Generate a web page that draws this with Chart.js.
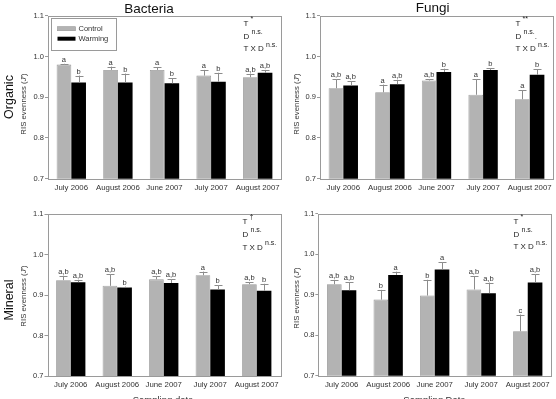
<!DOCTYPE html>
<html>
<head>
<meta charset="utf-8">
<script src="https://cdn.jsdelivr.net/npm/chart.js@4.4.1/dist/chart.umd.min.js"></script>
<style>
  html,body{margin:0;padding:0;background:#fff;}
  #wrap{position:relative;width:556px;height:399px;overflow:hidden;font-family:'Liberation Sans',Arial,sans-serif;}
  canvas{position:absolute;left:0;top:0;}
  .t{position:absolute;white-space:nowrap;color:#111;line-height:1;}
  .rot{transform:translate(-50%,-50%) rotate(-90deg);}
  .ctr{transform:translate(-50%,-50%);}
  .st{position:absolute;font-size:8px;color:#222;line-height:1;white-space:nowrap;}
  .st sup{font-size:7px;position:relative;top:-1px;vertical-align:super;line-height:0;}
</style>
</head>
<body>
<div id="wrap">
  <canvas id="c1" width="556" height="399"></canvas>
  <canvas id="c2" width="556" height="399"></canvas>
  <canvas id="c3" width="556" height="399"></canvas>
  <canvas id="c4" width="556" height="399"></canvas>
</div>
<script>
// ---------- data ----------
const categories = ['July 2006','August 2006','June 2007','July 2007','August 2007'];
const yTicks = [0.7, 0.8, 0.9, 1.0, 1.1];
const seriesNames = ['Control','Warming'];

// Organic - Bacteria
const orgBacCtrl = [0.980, 0.967, 0.967, 0.953, 0.949];
const orgBacCtrlErr = [0.002, 0.008, 0.007, 0.014, 0.009];
const orgBacWarm = [0.936, 0.936, 0.934, 0.938, 0.960];
const orgBacWarmErr = [0.017, 0.022, 0.013, 0.022, 0.007];
const orgBacCtrlLet = ['a','a','a','a','a,b'];
const orgBacWarmLet = ['b','b','b','b','a,b'];

// Organic - Fungi
const orgFunCtrl = [0.922, 0.912, 0.941, 0.906, 0.895];
const orgFunCtrlErr = [0.022, 0.019, 0.003, 0.038, 0.022];
const orgFunWarm = [0.929, 0.932, 0.962, 0.967, 0.955];
const orgFunWarmErr = [0.010, 0.011, 0.008, 0.004, 0.014];
const orgFunCtrlLet = ['a,b','a','a,b','a','a'];
const orgFunWarmLet = ['a,b','a,b','b','b','b'];

// Mineral - Bacteria
const minBacCtrl = [0.937, 0.923, 0.939, 0.949, 0.927];
const minBacCtrlErr = [0.011, 0.028, 0.007, 0.009, 0.005];
const minBacWarm = [0.932, 0.919, 0.930, 0.914, 0.911];
const minBacWarmErr = [0.006, 0.002, 0.009, 0.010, 0.017];
const minBacCtrlLet = ['a,b','a,b','a,b','a','a,b'];
const minBacWarmLet = ['a,b','b','a,b','b','b'];

// Mineral - Fungi
const minFunCtrl = [0.926, 0.888, 0.898, 0.913, 0.810];
const minFunCtrlErr = [0.011, 0.024, 0.039, 0.033, 0.041];
const minFunWarm = [0.911, 0.949, 0.962, 0.904, 0.930];
const minFunWarmErr = [0.020, 0.008, 0.018, 0.026, 0.020];
const minFunCtrlLet = ['a,b','b','b','a,b','c'];
const minFunWarmLet = ['a,b','a','a','a,b','a,b'];

// Stats annotations (T, D, T X D)
const statT = ['*', '**', '\u2020', '*'];
const statD = ['n.s.', 'n.s.', 'n.s.', 'n.s.'];
const statTD = ['n.s.', 'n.s.', 'n.s.', 'n.s.'];

// ---------- layout ----------
const FONT = "'Liberation Sans', Arial, sans-serif";
const panels = [
  {id:'c1', L:48,   R:281, T:15.7, B:178.7, ctrl:orgBacCtrl, ctrlErr:orgBacCtrlErr, warm:orgBacWarm, warmErr:orgBacWarmErr, cl:orgBacCtrlLet, wl:orgBacWarmLet, legend:true},
  {id:'c2', L:320,  R:553, T:15.7, B:178.7, ctrl:orgFunCtrl, ctrlErr:orgFunCtrlErr, warm:orgFunWarm, warmErr:orgFunWarmErr, cl:orgFunCtrlLet, wl:orgFunWarmLet},
  {id:'c3', L:47.5, R:280, T:214, B:376.3, ctrl:minBacCtrl, ctrlErr:minBacCtrlErr, warm:minBacWarm, warmErr:minBacWarmErr, cl:minBacCtrlLet, wl:minBacWarmLet},
  {id:'c4', L:318.4,R:551, T:213.7, B:375.8, ctrl:minFunCtrl, ctrlErr:minFunCtrlErr, warm:minFunWarm, warmErr:minFunWarmErr, cl:minFunCtrlLet, wl:minFunWarmLet}
];

const YW = 20, XH = 18;

const decorPlugin = {
  id:'decor',
  afterDatasetsDraw(chart, args, opts){
    const ctx = chart.ctx, ca = chart.chartArea, y = chart.scales.y;
    ctx.save();
    // frame
    ctx.strokeStyle = '#9a9a9a'; ctx.lineWidth = 1;
    ctx.strokeRect(Math.round(ca.left)+0.5, Math.round(ca.top)+0.5, Math.round(ca.right-ca.left), Math.round(ca.bottom-ca.top));
    // error bars + letters
    const errs = opts.errs, lets = opts.lets;
    chart.data.datasets.forEach((ds, di) => {
      const meta = chart.getDatasetMeta(di);
      meta.data.forEach((bar, i) => {
        const v = ds.data[i], e = errs[di][i];
        const x = bar.x, y0 = y.getPixelForValue(v), y1 = y.getPixelForValue(v + e);
        ctx.strokeStyle = '#8c8c8c'; ctx.lineWidth = 1;
        ctx.beginPath();
        ctx.moveTo(Math.round(x)+0.5, y0); ctx.lineTo(Math.round(x)+0.5, y1);
        ctx.moveTo(Math.round(x)+0.5, Math.round(y1)+0.5); ctx.lineTo(Math.round(x)+4.5, Math.round(y1)+0.5);
        ctx.moveTo(Math.round(x)+0.5, Math.round(y1)+0.5); ctx.lineTo(Math.round(x)-3.5, Math.round(y1)+0.5);
        ctx.stroke();
        ctx.fillStyle = '#333';
        ctx.font = '7.5px ' + FONT;
        ctx.textAlign = 'center'; ctx.textBaseline = 'alphabetic';
        ctx.fillText(lets[di][i], x, y1 - 2);
      });
    });
    // legend
    if (opts.legend){
      const lx = ca.left + 2.5, ly = ca.top + 2.5;
      ctx.strokeStyle = '#9a9a9a'; ctx.lineWidth = 1;
      ctx.strokeRect(Math.round(lx)+0.5, Math.round(ly)+0.5, 65, 32);
      chart.data.datasets.forEach((ds, di) => {
        const sy = ly + 10.5 + di*10;
        ctx.fillStyle = ds.backgroundColor;
        ctx.fillRect(lx + 7, sy - 2, 18, 4);
        if (ds.borderWidth){ ctx.strokeStyle = ds.borderColor; ctx.lineWidth = 0.6; ctx.strokeRect(lx+7, sy-2, 18, 4); }
        ctx.fillStyle = '#333';
        ctx.font = '7.5px ' + FONT;
        ctx.textAlign = 'left'; ctx.textBaseline = 'middle';
        ctx.fillText(ds.label, lx + 28, sy);
      });
    }
    ctx.restore();
  }
};

panels.forEach(p => {
  new Chart(document.getElementById(p.id), {
    type:'bar',
    data:{
      labels: categories,
      datasets:[
        {label:seriesNames[0], data:p.ctrl, backgroundColor:'#b3b3b3', borderColor:'#959595', borderWidth:0.8},
        {label:seriesNames[1], data:p.warm, backgroundColor:'#000000', borderWidth:0}
      ]
    },
    options:{
      responsive:false, animation:false, devicePixelRatio:1,
      categoryPercentage:0.63, barPercentage:1.0,
      layout:{padding:{left:p.L - YW, right:556 - p.R, top:p.T, bottom:399 - p.B - XH}},
      plugins:{legend:{display:false}, tooltip:{enabled:false},
        decor:{errs:[p.ctrlErr, p.warmErr], lets:[p.cl, p.wl], legend:!!p.legend}},
      scales:{
        x:{
          grid:{display:false, drawTicks:false, tickLength:0}, border:{display:false},
          ticks:{font:{family:FONT, size:7.8}, color:'#333', padding:4, maxRotation:0, autoSkip:false},
          afterFit:s => { s.height = XH; }
        },
        y:{
          min:0.7, max:1.1,
          afterBuildTicks:s => { s.ticks = yTicks.map(v => ({value:v})); },
          ticks:{font:{family:FONT, size:7.5}, color:'#333', padding:1, callback:v => Number(v).toFixed(1)},
          grid:{drawOnChartArea:false, drawTicks:true, tickLength:3, color:'#9a9a9a'},
          border:{display:false},
          afterFit:s => { s.width = YW; }
        }
      }
    },
    plugins:[decorPlugin]
  });
});

// ---------- text overlays ----------
const wrap = document.getElementById('wrap');
function addText(html, x, y, size, cls, extra){
  const d = document.createElement('div');
  d.className = 't ' + cls;
  d.innerHTML = html;
  d.style.left = x + 'px'; d.style.top = y + 'px'; d.style.fontSize = size + 'px';
  if (extra) Object.assign(d.style, extra);
  wrap.appendChild(d);
}
addText('Bacteria', 149, 8.5, 13.5, 'ctr');
addText('Fungi', 432.7, 8, 13.5, 'ctr');
addText('Organic', 8.5, 97, 12.5, 'rot');
addText('Mineral', 8.5, 300, 12.5, 'rot');
const yTitle = 'RIS evenness (<i>J\'</i>)';
addText(yTitle, 24, 104, 7.8, 'rot', {color:'#333'});
addText(yTitle, 296.7, 104, 7.8, 'rot', {color:'#333'});
addText(yTitle, 24, 296, 7.8, 'rot', {color:'#333'});
addText(yTitle, 296.7, 298, 7.8, 'rot', {color:'#333'});
addText('Sampling date', 163, 400, 9.5, 'ctr', {color:'#333'});
addText('Sampling Date', 434.5, 400, 9.5, 'ctr', {color:'#333'});

panels.forEach((p, i) => {
  const x = p.R - 37.5;
  const lines = [
    'T <sup>' + statT[i] + '</sup>',
    'D <sup>' + statD[i] + '</sup>' + (i === 1 ? '.' : ''),
    'T X D <sup>' + statTD[i] + '</sup>'
  ];
  lines.forEach((h, k) => {
    const d = document.createElement('div');
    d.className = 'st';
    d.innerHTML = h;
    d.style.left = x + 'px';
    d.style.top = (p.T + 4 + k*12.8) + 'px';
    wrap.appendChild(d);
  });
});
</script>
</body>
</html>
